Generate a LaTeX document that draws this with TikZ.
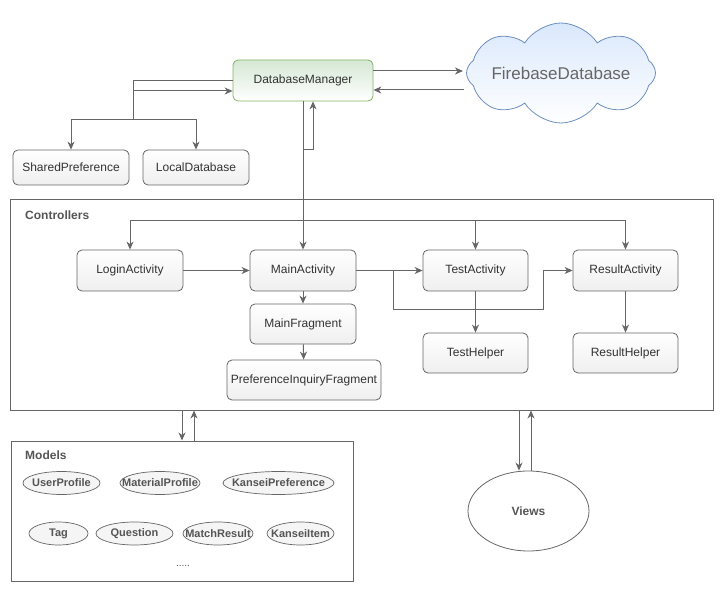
\documentclass[tikz,border=0pt]{standalone}
\usepackage{fontspec}
\setmainfont{Liberation Sans}
\usetikzlibrary{shapes.geometric,shapes.symbols,arrows.meta}
\definecolor{ln}{HTML}{666666}
\definecolor{tx}{HTML}{333333}
\definecolor{tb}{HTML}{555555}
\definecolor{gbd}{HTML}{82B366}
\definecolor{gfl}{HTML}{D5E8D4}
\definecolor{bbd}{HTML}{6C8EBF}
\definecolor{bfl}{HTML}{DAE8FC}
\definecolor{gbot}{HTML}{EFEFEF}
\definecolor{efl}{HTML}{F5F5F5}
\tikzset{
  arr/.style={draw=ln, line width=1pt, -{Stealth[length=8pt,width=7pt,inset=2.5pt]}},
  box/.style={draw=ln, line width=0.8pt, rounded corners=5pt, top color=white, bottom color=gbot,
    text=tx, font=\fontsize{12}{14}\selectfont, inner sep=0pt},
  frame/.style={draw=ln, line width=1pt, fill=white, inner sep=0pt},
  mell/.style={ellipse, draw=ln, line width=0.7pt, fill=efl, text=tb, inner sep=0pt, minimum height=23,
    font=\bfseries\fontsize{11}{13}\selectfont},
  ttl/.style={text=tb, font=\bfseries\fontsize{12}{14}\selectfont, anchor=west, inner sep=0pt}
}
\newcommand{\zw}[1]{\makebox[0pt]{#1}}
\begin{document}
\begin{tikzpicture}[x=1pt,y=-1pt]
\useasboundingbox (0,0) rectangle (724,591);
% frames
\node[frame, minimum width=703, minimum height=210] (ctrl) at (361.5,305) {};
\node[ttl] (ctrlt) at (25,215) {Controllers};
\node[frame, minimum width=342, minimum height=140] (models) at (182,511) {};
\node[ttl] (modelst) at (25,455) {Models};
% top
\node[box, draw=gbd, top color=gfl, bottom color=white, minimum width=140, minimum height=41] (db) at (303,80.5) {DatabaseManager};
\node[box, minimum width=116, minimum height=35] (sp) at (71,167.5) {SharedPreference};
\node[box, minimum width=106, minimum height=35] (ld) at (196,167.5) {LocalDatabase};
\node[cloud, cloud puffs=8, cloud puff arc=115, cloud ignores aspect, draw=bbd, line width=0.8pt, top color=bfl, bottom color=white,
  minimum width=189, minimum height=100, inner sep=0pt, text=ln, font=\fontsize{17}{20}\selectfont] (fb) at (561,73) {\zw{FirebaseDatabase}};
% controllers
\node[box, minimum width=106, minimum height=41] (login) at (130,270.5) {LoginActivity};
\node[box, minimum width=106, minimum height=41] (main) at (303,270.5) {MainActivity};
\node[box, minimum width=106, minimum height=40] (mfrag) at (303,324) {MainFragment};
\node[box, minimum width=154, minimum height=40] (pif) at (304,380) {PreferenceInquiryFragment};
\node[box, minimum width=105, minimum height=41] (test) at (475.5,270.5) {TestActivity};
\node[box, minimum width=105, minimum height=41] (result) at (625.5,270.5) {ResultActivity};
\node[box, minimum width=105, minimum height=40] (testh) at (475.5,353) {TestHelper};
\node[box, minimum width=105, minimum height=40] (resulth) at (625.5,353) {ResultHelper};
% models
\node[mell, minimum width=77] (up) at (61.5,483) {\zw{UserProfile}};
\node[mell, minimum width=80] (mp) at (160,483) {\zw{MaterialProfile}};
\node[mell, minimum width=111] (kp) at (278.5,483) {\zw{KanseiPreference}};
\node[mell, minimum width=59] (tag) at (58.5,533.5) {\zw{Tag}};
\node[mell, minimum width=77] (q) at (134.5,533.5) {\zw{Question}};
\node[mell, minimum width=70] (mr) at (218,533.5) {\zw{MatchResult}};
\node[mell, minimum width=67] (ki) at (300.5,533.5) {\zw{KanseiItem}};
\node[text=tb, font=\fontsize{10}{12}\selectfont, inner sep=0pt] (dots) at (183,566) {.....};
% views
\node[ellipse, draw=ln, line width=0.8pt, fill=white, minimum width=121, minimum height=80, inner sep=0pt,
  text=tb, font=\bfseries\fontsize{12}{14}\selectfont] (views) at (528.5,511) {Views};
% coordinates
\coordinate (j1) at (133,120);
\coordinate (j2) at (133,91);
\coordinate (j3) at (313,150);
\coordinate (fbin) at (463,71);
\coordinate (fbout) at (464,90);
\coordinate (dbo) at (373,71);
\coordinate (bus) at (303,221);
\coordinate (b1) at (393,270.5);
\coordinate (b2) at (393,310);
\coordinate (b3) at (543,310);
\coordinate (m1) at (182,0);
\coordinate (m2) at (194,0);
\coordinate (v1) at (519,0);
\coordinate (v2) at (531,0);
% connectors
\draw[arr] (db.west) -| (j1) -| (sp.north);
\draw[arr] (j1) -| (ld.north);
\draw[arr] (j2) -- (j2 -| db.west);
\draw[arr] (dbo) -- (fbin);
\draw[arr] (fbout) -- (fbout -| db.east);
\draw[arr] (db.south) -- (main.north);
\draw[arr] (db.south |- j3) -- (j3) -- (j3 |- db.south);
\draw[arr] (bus) -| (login.north);
\draw[arr] (bus) -| (test.north);
\draw[arr] (bus) -| (result.north);
\draw[arr] (login) -- (main);
\draw[arr] (main) -- (test);
\draw[arr] (b1) -- (b2) -- (b3) |- (result.west);
\draw[arr] (main) -- (mfrag);
\draw[arr] (mfrag) -- (pif);
\draw[arr] (test) -- (testh);
\draw[arr] (result) -- (resulth);
\draw[arr] (ctrl.south -| m1) -- (models.north -| m1);
\draw[arr] (models.north -| m2) -- (ctrl.south -| m2);
\draw[arr] (ctrl.south -| v1) -- (v1 |- views.north);
\draw[arr] (v2 |- views.north) -- (ctrl.south -| v2);
\end{tikzpicture}
\end{document}
